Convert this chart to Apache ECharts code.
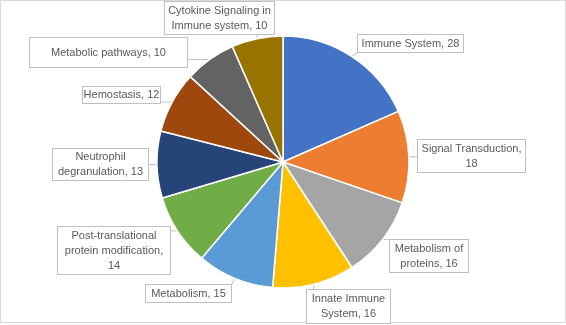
<!DOCTYPE html>
<html>
<head>
<meta charset="utf-8">
<script src="https://cdn.jsdelivr.net/npm/echarts@6/dist/echarts.min.js"></script>
<style>html,body{margin:0;padding:0;background:#fff}#c{width:566px;height:325px}</style>
</head>
<body>
<div id="c"></div>
<script>
const categories = ["Immune System", "Signal Transduction", "Metabolism of proteins", "Innate Immune System", "Metabolism", "Post-translational protein modification", "Neutrophil degranulation", "Hemostasis", "Metabolic pathways", "Cytokine Signaling in Immune system"];
const values = [28, 18, 16, 16, 15, 14, 13, 12, 10, 10];
const labelTexts = ["Immune System, 28", "Signal Transduction,\n18", "Metabolism of\nproteins, 16", "Innate Immune\nSystem, 16", "Metabolism, 15", "Post-translational\nprotein modification,\n14", "Neutrophil\ndegranulation, 13", "Hemostasis, 12", "Metabolic pathways, 10", "Cytokine Signaling in\nImmune system, 10"];
const colors = ["#4472C4", "#ED7D31", "#A5A5A5", "#FFC000", "#5B9BD5", "#70AD47", "#264478", "#9E480E", "#636363", "#997300"];
// label box layout: [centerX, centerY, width, height]
const boxes = [[410.5,43.5,107,19],[471.5,156,109,34],[429,256,80,34],[348.5,306.5,85,35],[188.5,293.5,87,19],[114,250.5,114,49],[100.5,164.5,97,33],[121.5,95,79,18],[108.5,52.5,159,31],[219.5,18,111,34]];
const LH = 15;

const data = categories.map((n, i) => {
  const lines = labelTexts[i].split('\n').length;
  const b = boxes[i];
  const pv = Math.max(0, (b[3] - 2 - lines * LH) / 2);
  return {
    name: n, value: values[i],
    itemStyle: { color: colors[i] },
    label: { width: b[2] - 2, padding: [pv, 0, pv, 0] }
  };
});

const chart = echarts.init(document.getElementById('c'), null, { renderer: 'canvas' });
chart.setOption({
  animation: false,
  backgroundColor: '#fff',
  graphic: [{ type: 'rect', shape: { x: 0.5, y: 0.5, width: 565, height: 322 }, style: { fill: 'none', stroke: '#d9d9d9', lineWidth: 1 }, silent: true, z: -1 }],
  series: [{
    type: 'pie',
    center: [283, 162],
    radius: 126,
    startAngle: 90,
    clockwise: true,
    data: data,
    itemStyle: { borderColor: '#fff', borderWidth: 1.5 },
    label: {
      show: true,
      position: 'outside',
      formatter: p => labelTexts[p.dataIndex],
      color: '#595959',
      fontFamily: 'Liberation Sans',
      fontSize: 11,
      lineHeight: LH,
      align: 'center',
      backgroundColor: '#fff',
      borderColor: '#bfbfbf',
      borderWidth: 1
    },
    labelLine: { show: true, length: 10, length2: 10, lineStyle: { color: '#bfbfbf', width: 1 } },
    labelLayout: function (params) {
      const i = params.dataIndex;
      const b = boxes[i];
      const p0 = params.labelLinePoints ? params.labelLinePoints[0] : [b[0], b[1]];
      const x1 = b[0] - b[2] / 2, x2 = b[0] + b[2] / 2, y1 = b[1] - b[3] / 2, y2 = b[1] + b[3] / 2;
      const ex = Math.min(Math.max(p0[0], x1), x2);
      const ey = Math.min(Math.max(p0[1], y1), y2);
      return {
        x: b[0], y: b[1], align: 'center', verticalAlign: 'middle',
        labelLinePoints: [p0, [(p0[0] + ex) / 2, (p0[1] + ey) / 2], [ex, ey]]
      };
    }
  }]
});
</script>
</body>
</html>
